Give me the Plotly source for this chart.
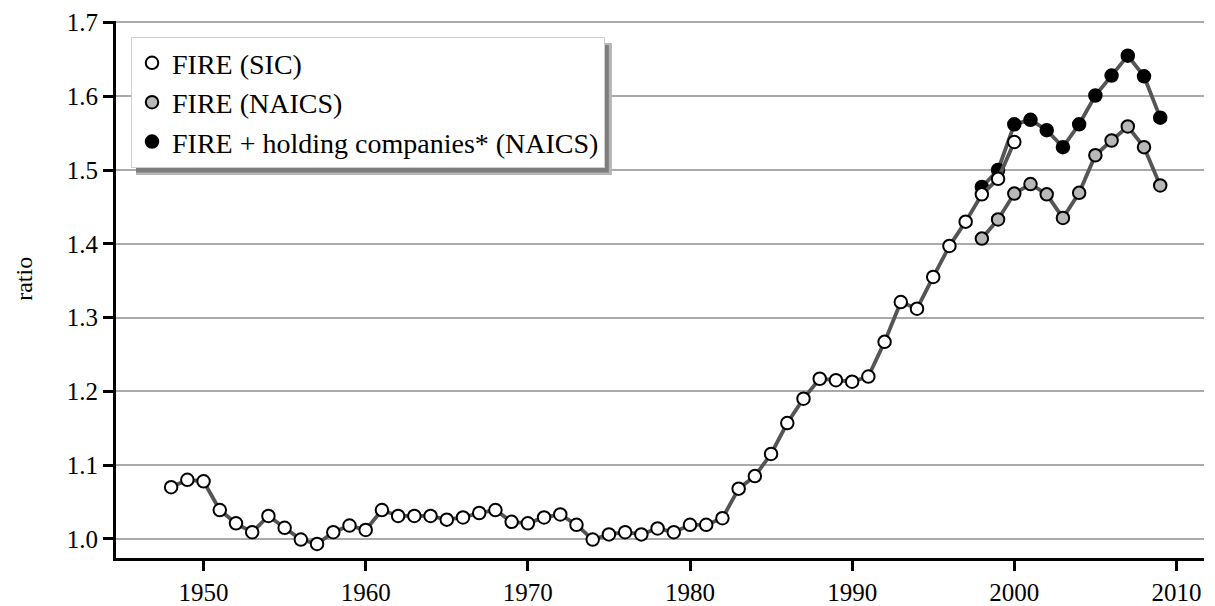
import plotly.graph_objects as go

# ---- data ----
sic_years = list(range(1948, 2001))
sic_values = [1.070, 1.080, 1.078, 1.039, 1.021, 1.009, 1.031, 1.015, 0.999, 0.993,
              1.009, 1.018, 1.012, 1.039, 1.031, 1.031, 1.031, 1.026, 1.029, 1.035,
              1.039, 1.023, 1.021, 1.029, 1.033, 1.019, 0.999, 1.006, 1.009, 1.006,
              1.014, 1.009, 1.019, 1.019, 1.028, 1.068, 1.085, 1.115, 1.157, 1.190,
              1.217, 1.215, 1.213, 1.220, 1.267, 1.321, 1.312, 1.355, 1.397, 1.430,
              1.467, 1.488, 1.538]

naics_years = list(range(1998, 2010))
naics_values = [1.407, 1.433, 1.468, 1.481, 1.467, 1.435, 1.469, 1.520, 1.540, 1.559,
                1.531, 1.479]

hold_years = list(range(1998, 2010))
hold_values = [1.477, 1.500, 1.562, 1.568, 1.554, 1.531, 1.562, 1.601, 1.628, 1.655,
               1.627, 1.571]

series_names = ["FIRE (SIC)", "FIRE (NAICS)", "FIRE + holding companies* (NAICS)"]
y_ticks = [1.0, 1.1, 1.2, 1.3, 1.4, 1.5, 1.6, 1.7]
x_ticks = [1950, 1960, 1970, 1980, 1990, 2000, 2010]

FONT = "Liberation Serif"
LINE_COLOR = "#555555"

fig = go.Figure()

def add_series(xs, ys, name, fill):
    fig.add_trace(go.Scatter(x=xs, y=ys, mode="lines", showlegend=False,
                             line=dict(color=LINE_COLOR, width=3.8), hoverinfo="skip"))
    fig.add_trace(go.Scatter(x=xs, y=ys, mode="markers", name=name,
                             marker=dict(size=12.5, color=fill,
                                         line=dict(color="black", width=2))))

add_series(hold_years, hold_values, series_names[2], "black")
add_series(naics_years, naics_values, series_names[1], "#b8b8b8")
add_series(sic_years, sic_values, series_names[0], "white")

# legend shadow (soft edge + core)
fig.add_shape(type="rect", xref="paper", yref="paper",
              x0=0.0184, x1=0.4558, y0=0.713, y1=0.959,
              fillcolor="#b5b5b5", line=dict(width=0), layer="above")
fig.add_shape(type="rect", xref="paper", yref="paper",
              x0=0.0184, x1=0.4530, y0=0.718, y1=0.955,
              fillcolor="#7d7d7d", line=dict(width=0), layer="above")

# y-axis title
fig.add_annotation(text="ratio", xref="paper", yref="paper", x=-0.0845, y=0.52,
                   xanchor="center", yanchor="middle", textangle=-90, showarrow=False,
                   font=dict(family=FONT, size=24, color="black"))

fig.update_layout(
    width=1215, height=606,
    margin=dict(l=116, r=11, t=21, b=48),
    plot_bgcolor="white", paper_bgcolor="white",
    font=dict(family=FONT, size=24, color="black"),
    showlegend=True,
    legend=dict(x=0.0138, y=0.970, xanchor="left", yanchor="top",
                traceorder="reversed",
                bgcolor="white", bordercolor="#d0d0d0", borderwidth=1,
                font=dict(family=FONT, size=28, color="black"),
                itemwidth=30, tracegroupgap=0),
    xaxis=dict(range=[1944.6, 2011.7], tickvals=x_ticks, showgrid=False,
               zeroline=False, showline=True, linecolor="black", linewidth=3,
               ticks="outside", ticklen=10, tickwidth=3, tickcolor="black",
               automargin=False, tickfont=dict(family=FONT, size=25)),
    yaxis=dict(range=[0.974, 1.702], tickvals=y_ticks, tickformat=".1f",
               showgrid=True, gridcolor="#aaaaaa", gridwidth=2,
               zeroline=False, showline=True, linecolor="black", linewidth=3,
               ticks="outside", ticklen=10, tickwidth=3, tickcolor="black",
               automargin=False, tickfont=dict(family=FONT, size=25)),
)

fig.write_html(
    "out.html",
    config={"displayModeBar": False},
    post_script="document.documentElement.style.margin='0';"
                "document.body.style.margin='0';"
                "document.body.style.overflow='hidden';",
)
